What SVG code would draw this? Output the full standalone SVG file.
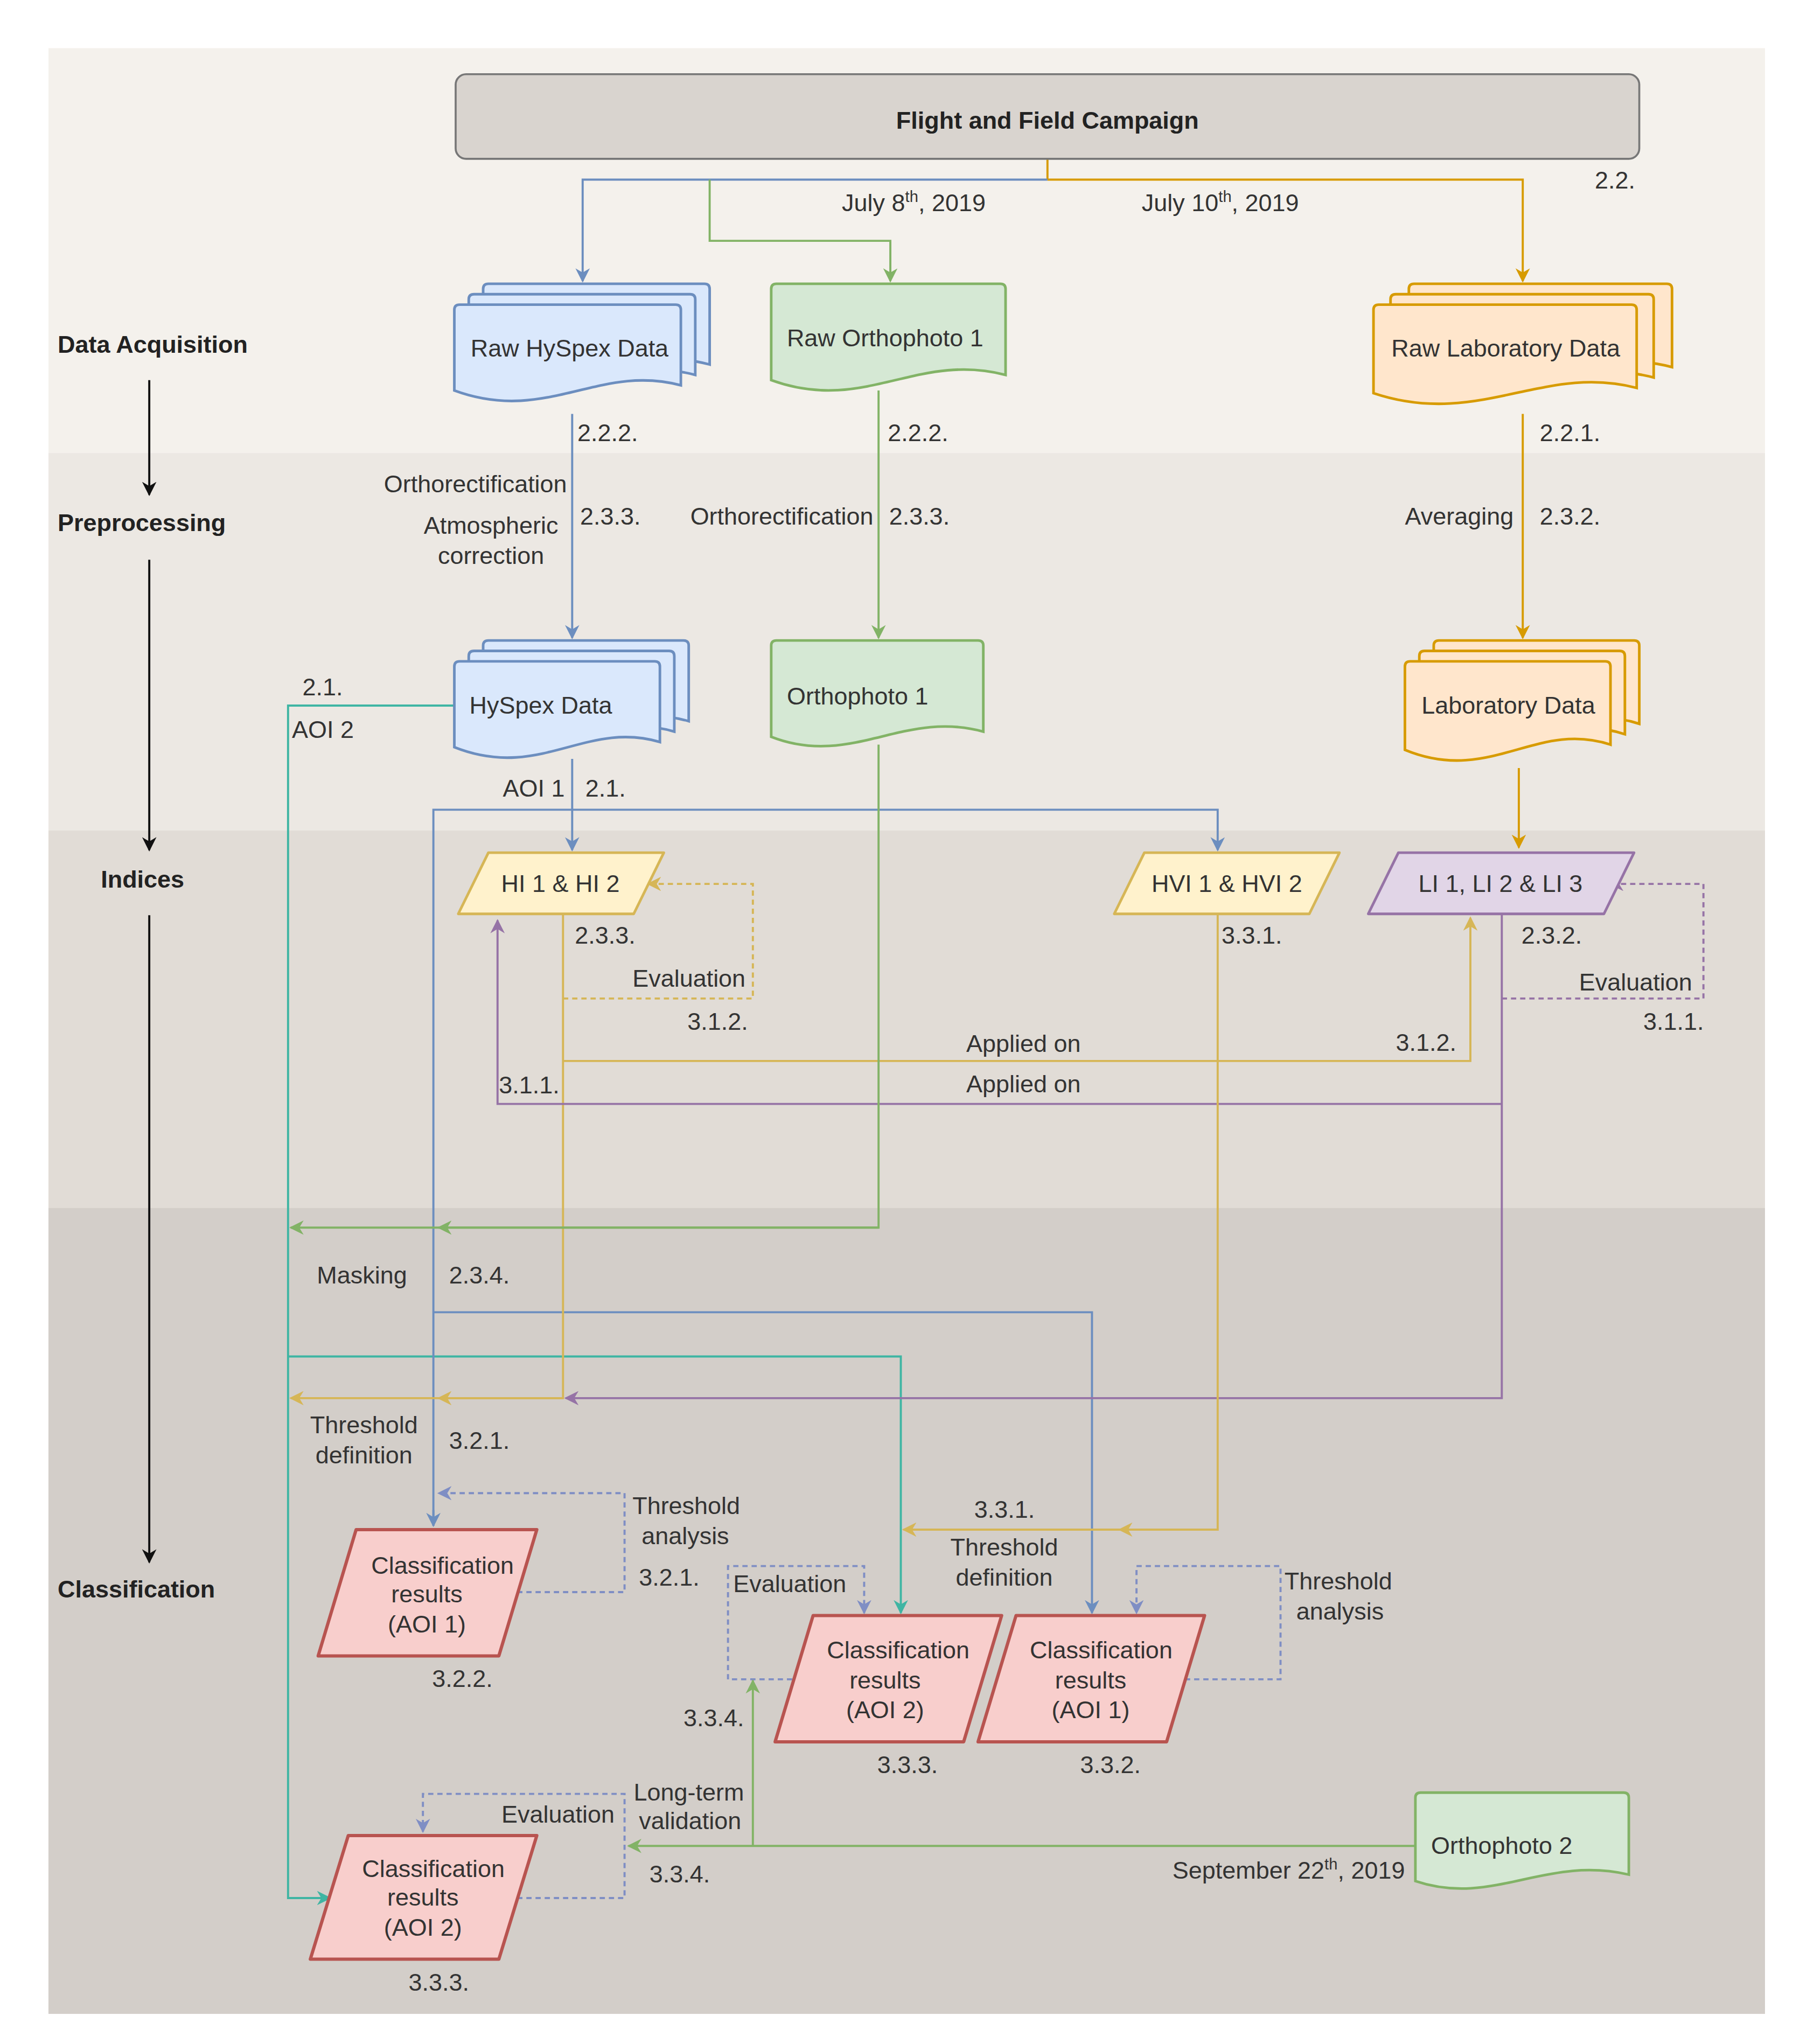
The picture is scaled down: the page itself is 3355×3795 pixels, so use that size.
<svg xmlns="http://www.w3.org/2000/svg" width="3355" height="3795" viewBox="0 0 3355 3795">
<style>
text{font-family:"Liberation Sans",Arial,sans-serif;font-size:18.5px;fill:#333}
.b{font-weight:bold;fill:#222}
.m{text-anchor:middle}.e{text-anchor:end}
.c{fill:none;stroke-width:1.6}
.d{stroke-dasharray:4 3}
.bl{stroke:#6c8ebf}.gr{stroke:#82b366}.or{stroke:#d79b00}.ye{stroke:#d6b656}.pu{stroke:#9673a6}.te{stroke:#3fb5a3}.db{stroke:#7f8ec4}.bk{stroke:#111}
.hs{fill:#dae8fc;stroke:#6c8ebf;stroke-width:2}
.go{fill:#d5e8d4;stroke:#82b366;stroke-width:2}
.lab{fill:#ffe6cc;stroke:#d79b00;stroke-width:2}
.yel{fill:#fff2cc;stroke:#d6b656;stroke-width:2}
.pur{fill:#e1d5e7;stroke:#9673a6;stroke-width:2}
.red{fill:#f8cecc;stroke:#b85450;stroke-width:2.5;stroke-linejoin:round}
</style>
<defs>
<marker id="ab" viewBox="0 0 10 10" refX="9" refY="5" markerWidth="11" markerHeight="11" markerUnits="userSpaceOnUse" orient="auto"><path d="M0,0 L10,5 L0,10 L3,5 Z" fill="#6c8ebf"/></marker>
<marker id="ag" viewBox="0 0 10 10" refX="9" refY="5" markerWidth="11" markerHeight="11" markerUnits="userSpaceOnUse" orient="auto"><path d="M0,0 L10,5 L0,10 L3,5 Z" fill="#82b366"/></marker>
<marker id="ao" viewBox="0 0 10 10" refX="9" refY="5" markerWidth="11" markerHeight="11" markerUnits="userSpaceOnUse" orient="auto"><path d="M0,0 L10,5 L0,10 L3,5 Z" fill="#d79b00"/></marker>
<marker id="ay" viewBox="0 0 10 10" refX="9" refY="5" markerWidth="11" markerHeight="11" markerUnits="userSpaceOnUse" orient="auto"><path d="M0,0 L10,5 L0,10 L3,5 Z" fill="#d6b656"/></marker>
<marker id="ap" viewBox="0 0 10 10" refX="9" refY="5" markerWidth="11" markerHeight="11" markerUnits="userSpaceOnUse" orient="auto"><path d="M0,0 L10,5 L0,10 L3,5 Z" fill="#9673a6"/></marker>
<marker id="at" viewBox="0 0 10 10" refX="9" refY="5" markerWidth="11" markerHeight="11" markerUnits="userSpaceOnUse" orient="auto"><path d="M0,0 L10,5 L0,10 L3,5 Z" fill="#3fb5a3"/></marker>
<marker id="ad" viewBox="0 0 10 10" refX="9" refY="5" markerWidth="11" markerHeight="11" markerUnits="userSpaceOnUse" orient="auto"><path d="M0,0 L10,5 L0,10 L3,5 Z" fill="#7f8ec4"/></marker>
<marker id="ak" viewBox="0 0 10 10" refX="9" refY="5" markerWidth="11" markerHeight="11" markerUnits="userSpaceOnUse" orient="auto"><path d="M0,0 L10,5 L0,10 L3,5 Z" fill="#111"/></marker>
<path id="dHS" d="M4,0 H169 Q173,0 173,4 V62 C110,45 70,92 0,66 V4 Q0,0 4,0 Z"/>
<path id="dLab" d="M4,0 H197 Q201,0 201,4 V64 C130,45 80,95 0,68 V4 Q0,0 4,0 Z"/>
<path id="dHS2" d="M4,0 H153 Q157,0 157,4 V62 C100,45 65,92 0,66 V4 Q0,0 4,0 Z"/>
<path id="dLab2" d="M4,0 H153 Q157,0 157,4 V64 C100,45 65,95 0,68 V4 Q0,0 4,0 Z"/>
</defs>
<g transform="scale(2.431 2.417)">
<g id="bands">
<rect x="37" y="37" width="1311" height="311" fill="#f4f1ec"/>
<rect x="37" y="348" width="1311" height="290" fill="#ece8e3"/>
<rect x="37" y="638" width="1311" height="290" fill="#e1dcd6"/>
<rect x="37" y="928" width="1311" height="619" fill="#d3cec9"/>
</g>
<g id="stages">
<text x="44" y="271" class="b">Data Acquisition</text>
<text x="44" y="408" class="b">Preprocessing</text>
<text x="77" y="682" class="b">Indices</text>
<text x="44" y="1227" class="b">Classification</text>
<path class="c bk" d="M114,292 V380" marker-end="url(#ak)"/>
<path class="c bk" d="M114,430 V653" marker-end="url(#ak)"/>
<path class="c bk" d="M114,703 V1200" marker-end="url(#ak)"/>
</g>
<g id="connectors">
<path class="c or" d="M800,122 V138"/>
<path class="c bl" d="M800,138 H445 V216" marker-end="url(#ab)"/>
<path class="c gr" d="M542,138 V185 H680 V216" marker-end="url(#ag)"/>
<path class="c or" d="M800,138 H1163 V216" marker-end="url(#ao)"/>
<path class="c bl" d="M437,318 V490" marker-end="url(#ab)"/>
<path class="c gr" d="M671,300 V490" marker-end="url(#ag)"/>
<path class="c or" d="M1163,318 V490" marker-end="url(#ao)"/>
<path class="c te" d="M347,542 H220 V1458 H252" marker-end="url(#at)"/>
<path class="c te" d="M220,1042 H688 V1239" marker-end="url(#at)"/>
<path class="c bl" d="M437,583 V653" marker-end="url(#ab)"/>
<path class="c bl" d="M331,1172 V622 H930 V653" marker-end="url(#ab)"/>
<path class="c bl" d="M331,1160 V1172" marker-end="url(#ab)"/>
<path class="c bl" d="M331,1008 H834 V1239" marker-end="url(#ab)"/>
<path class="c or" d="M1160,590 V651" marker-end="url(#ao)"/>
<path class="c ye d" d="M430,767 H575 V679 H495" marker-end="url(#ay)"/>
<path class="c ye" d="M430,702 V1074 H222" marker-end="url(#ay)"/>
<path class="c ye" d="M430,1074 H335" marker-end="url(#ay)"/>
<path class="c ye" d="M430,815 H1123 V705" marker-end="url(#ay)"/>
<path class="c pu" d="M1147,702 V1074 H432" marker-end="url(#ap)"/>
<path class="c pu" d="M1147,848 H380 V707" marker-end="url(#ap)"/>
<path class="c pu d" d="M1147,767 H1301 V679 H1230" marker-end="url(#ap)"/>
<path class="c ye" d="M930,702 V1175 H690" marker-end="url(#ay)"/>
<path class="c ye" d="M930,1175 H855" marker-end="url(#ay)"/>
<path class="c gr" d="M671,572 V943 H222" marker-end="url(#ag)"/>
<path class="c gr" d="M671,943 H335" marker-end="url(#ag)"/>
<path class="c db d" d="M395,1223 H477 V1147 H335" marker-end="url(#ad)"/>
<path class="c db d" d="M605,1290 H556 V1203 H660 V1239" marker-end="url(#ad)"/>
<path class="c db d" d="M905,1290 H978 V1203 H868 V1239" marker-end="url(#ad)"/>
<path class="c db d" d="M395,1458 H477 V1378 H323 V1407" marker-end="url(#ad)"/>
<path class="c gr" d="M1081,1418 H480" marker-end="url(#ag)"/>
<path class="c gr" d="M575,1418 V1291" marker-end="url(#ag)"/>
</g>
<g id="labels">
<text x="643" y="162">July 8<tspan dy="-7" font-size="12">th</tspan><tspan dy="7">, 2019</tspan></text>
<text x="872" y="162">July 10<tspan dy="-7" font-size="12">th</tspan><tspan dy="7">, 2019</tspan></text>
<text x="1218" y="145">2.2.</text>
<text x="441" y="339">2.2.2.</text>
<text x="433" y="378" class="e">Orthorectification</text>
<text x="375" y="410" class="m">Atmospheric</text>
<text x="375" y="433" class="m">correction</text>
<text x="443" y="403">2.3.3.</text>
<text x="678" y="339">2.2.2.</text>
<text x="667" y="403" class="e">Orthorectification</text>
<text x="679" y="403">2.3.3.</text>
<text x="1176" y="339">2.2.1.</text>
<text x="1156" y="403" class="e">Averaging</text>
<text x="1176" y="403">2.3.2.</text>
<text x="231" y="534">2.1.</text>
<text x="223" y="567">AOI 2</text>
<text x="384" y="612">AOI 1</text>
<text x="447" y="612">2.1.</text>
<text x="439" y="725">2.3.3.</text>
<text x="483" y="758">Evaluation</text>
<text x="525" y="791">3.1.2.</text>
<text x="933" y="725">3.3.1.</text>
<text x="1162" y="725">2.3.2.</text>
<text x="1206" y="761">Evaluation</text>
<text x="1255" y="791">3.1.1.</text>
<text x="738" y="808">Applied on</text>
<text x="1066" y="807">3.1.2.</text>
<text x="381" y="840">3.1.1.</text>
<text x="738" y="839">Applied on</text>
<text x="242" y="986">Masking</text>
<text x="343" y="986">2.3.4.</text>
<text x="278" y="1101" class="m">Threshold</text>
<text x="278" y="1124" class="m">definition</text>
<text x="343" y="1113">3.2.1.</text>
<text x="483" y="1163">Threshold</text>
<text x="490" y="1186">analysis</text>
<text x="488" y="1218">3.2.1.</text>
<text x="744" y="1166">3.3.1.</text>
<text x="767" y="1195" class="m">Threshold</text>
<text x="767" y="1218" class="m">definition</text>
<text x="560" y="1223">Evaluation</text>
<text x="981" y="1221">Threshold</text>
<text x="990" y="1244">analysis</text>
<text x="330" y="1296">3.2.2.</text>
<text x="522" y="1326">3.3.4.</text>
<text x="670" y="1362">3.3.3.</text>
<text x="825" y="1362">3.3.2.</text>
<text x="484" y="1383">Long-term</text>
<text x="488" y="1405">validation</text>
<text x="383" y="1400">Evaluation</text>
<text x="496" y="1446">3.3.4.</text>
<text x="1073" y="1443" class="e">September 22<tspan dy="-7" font-size="12">th</tspan><tspan dy="7">, 2019</tspan></text>
<text x="312" y="1529">3.3.3.</text>
</g>
<g id="n-flight">
<rect x="348" y="57" width="904" height="65" rx="8" fill="#d9d4cf" stroke="#777" stroke-width="1.5"/>
<text x="800" y="99" class="b m" font-size="26">Flight and Field Campaign</text>
</g>
<g id="n-rawhyspex">
<use href="#dHS" x="369" y="218" class="hs"/>
<use href="#dHS" x="358" y="226" class="hs"/>
<use href="#dHS" x="347" y="234" class="hs"/>
<text x="435" y="274" class="m">Raw HySpex Data</text>
</g>
<g id="n-rawortho">
<path class="go" d="M593,218 H764 Q768,218 768,222 V288 C700,270 660,318 589,292 V222 Q589,218 593,218 Z"/>
<text x="676" y="266" class="m">Raw Orthophoto 1</text>
</g>
<g id="n-rawlab">
<use href="#dLab" x="1076" y="218" class="lab"/>
<use href="#dLab" x="1062" y="226" class="lab"/>
<use href="#dLab" x="1049" y="234" class="lab"/>
<text x="1150" y="274" class="m">Raw Laboratory Data</text>
</g>
<g id="n-hyspex">
<use href="#dHS2" x="369" y="492" class="hs"/>
<use href="#dHS2" x="358" y="500" class="hs"/>
<use href="#dHS2" x="347" y="508" class="hs"/>
<text x="413" y="548" class="m">HySpex Data</text>
</g>
<g id="n-ortho1">
<path class="go" d="M593,492 H747 Q751,492 751,496 V562 C690,545 650,590 589,566 V496 Q589,492 593,492 Z"/>
<text x="655" y="541" class="m">Orthophoto 1</text>
</g>
<g id="n-lab">
<use href="#dLab2" x="1095" y="492" class="lab"/>
<use href="#dLab2" x="1084" y="500" class="lab"/>
<use href="#dLab2" x="1073" y="508" class="lab"/>
<text x="1152" y="548" class="m">Laboratory Data</text>
</g>
<g id="n-hi">
<path class="yel" d="M350,702 L373,655 H507 L484,702 Z" stroke-linejoin="round"/>
<text x="428" y="685" class="m">HI 1 &amp; HI 2</text>
</g>
<g id="n-hvi">
<path class="yel" d="M851,702 L874,655 H1023 L1000,702 Z" stroke-linejoin="round"/>
<text x="937" y="685" class="m">HVI 1 &amp; HVI 2</text>
</g>
<g id="n-li">
<path class="pur" d="M1045,702 L1068,655 H1248 L1225,702 Z" stroke-linejoin="round"/>
<text x="1146" y="685" class="m">LI 1, LI 2 &amp; LI 3</text>
</g>
<g id="n-class1">
<path class="red" d="M243,1272 L272,1175 H410 L381,1272 Z"/>
<text x="338" y="1209" class="m">Classification</text>
<text x="326" y="1231" class="m">results</text>
<text x="326" y="1254" class="m">(AOI 1)</text>
</g>
<g id="n-class2m">
<path class="red" d="M592,1338 L621,1241 H765 L736,1338 Z"/>
<text x="686" y="1274" class="m">Classification</text>
<text x="676" y="1297" class="m">results</text>
<text x="676" y="1320" class="m">(AOI 2)</text>
</g>
<g id="n-class1r">
<path class="red" d="M747,1338 L776,1241 H920 L891,1338 Z"/>
<text x="841" y="1274" class="m">Classification</text>
<text x="833" y="1297" class="m">results</text>
<text x="833" y="1320" class="m">(AOI 1)</text>
</g>
<g id="n-class2b">
<path class="red" d="M237,1505 L266,1410 H410 L381,1505 Z"/>
<text x="331" y="1442" class="m">Classification</text>
<text x="323" y="1464" class="m">results</text>
<text x="323" y="1487" class="m">(AOI 2)</text>
</g>
<g id="n-ortho2">
<path class="go" d="M1085,1377 H1240 Q1244,1377 1244,1381 V1440 C1180,1425 1140,1465 1081,1445 V1381 Q1081,1377 1085,1377 Z"/>
<text x="1147" y="1424" class="m">Orthophoto 2</text>
</g>
</g>
</svg>
